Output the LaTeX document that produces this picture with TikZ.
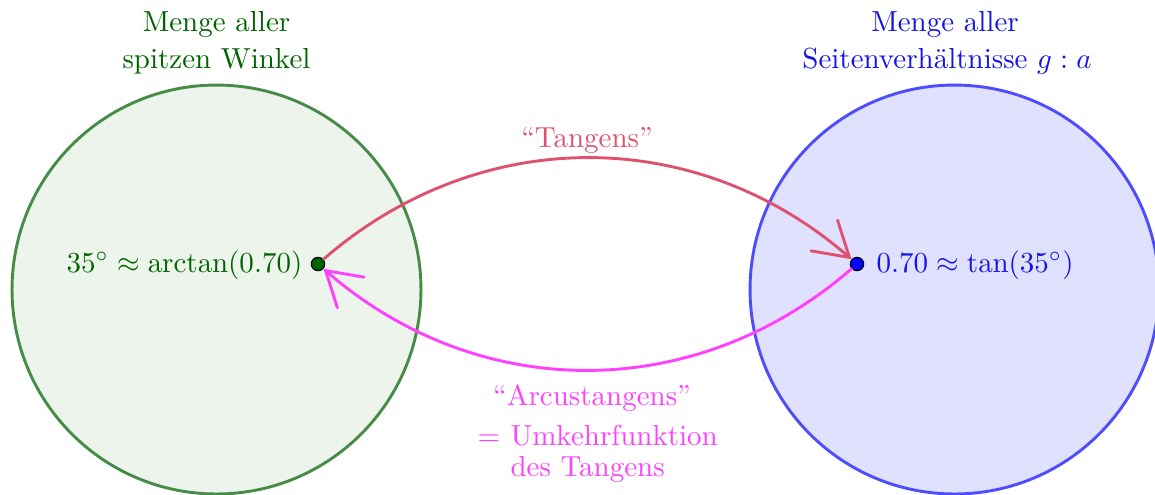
\documentclass[tikz,border=0pt]{standalone}
\usetikzlibrary{arrows.meta}
\definecolor{gline}{RGB}{70,140,70}
\definecolor{gfill}{RGB}{236,244,236}
\definecolor{gtext}{RGB}{0,100,0}
\definecolor{bline}{RGB}{77,77,255}
\definecolor{bfill}{RGB}{224,224,255}
\definecolor{btext}{RGB}{20,20,230}
\definecolor{tcol}{RGB}{222,82,112}
\definecolor{mcol}{RGB}{255,64,255}
\tikzset{
  setcircle/.style={circle, line width=1pt, minimum size=141pt, inner sep=0pt},
  dot/.style={circle, draw=black, line width=0.4pt, minimum size=4.6pt, inner sep=0pt},
  lbl/.style={inner sep=0pt, anchor=base},
  maparrow/.style={line width=1pt, line cap=round, -{Straight Barb[length=11.5pt,width=14pt,line cap=round]}},
}
\begin{document}
\begin{tikzpicture}[x=0.3448pt, y=-0.3448pt]
\useasboundingbox (0,0) rectangle (1155,494);
% sets
\node[setcircle, draw=gline, fill=gfill] (A) at (216.5,289.5) {};
\node[setcircle, draw=bline, fill=bfill] (B) at (954.5,289.5) {};
% set titles
\node[lbl, text=gtext] (A1) at (216.5,31) {Menge aller};
\node[lbl, text=gtext] (A2) at (216.5,68) {spitzen Winkel};
\node[lbl, text=btext] (B1) at (945,31) {Menge aller};
\node[lbl, text=btext] (B2) at (947,68) {Seitenverh\"altnisse $g:a$};
% points
\node[dot, fill=gtext] (p) at (318,264) {};
\node[dot, fill=blue] (q) at (857,264) {};
\node[inner sep=0pt, anchor=base east, text=gtext] (pl) at (303,272) {$35^\circ\approx\mathrm{arctan}(0.70)$};
\node[inner sep=0pt, anchor=base west, text=btext] (ql) at (876,272) {$0.70\approx\tan(35^\circ)$};
% arrows
\draw[maparrow, draw=tcol] (p) to[bend left=41] (q);
\draw[maparrow, draw=mcol] (q) to[bend left=41] (p);
% arrow labels
\node[lbl, text=tcol] (t) at (587,147) {``Tangens''};
\node[lbl, text=mcol] (m1) at (592,405) {``Arcustangens''};
\node[inner sep=0pt, anchor=base west, text=mcol] (m2) at (477,445) {$=$};
\node[inner sep=0pt, anchor=base west, text=mcol] (m3) at (510,445) {Umkehrfunktion};
\node[inner sep=0pt, anchor=base west, text=mcol] (m4) at (510,476) {des Tangens};
\end{tikzpicture}
\end{document}
